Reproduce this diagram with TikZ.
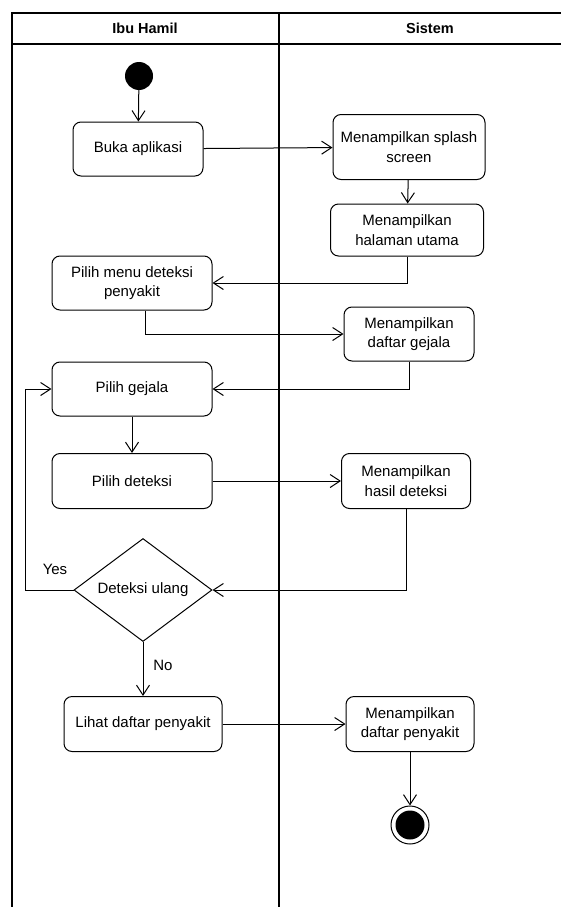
\documentclass[tikz,border=0pt]{standalone}
\usepackage{fontspec}
\setmainfont{Liberation Sans}
\usetikzlibrary{shapes.geometric,arrows.meta}

\begin{document}
\begin{tikzpicture}[x=1pt,y=-1pt,
  act/.style={draw, rounded corners=8pt, line width=1pt, align=center, inner sep=0pt,
    minimum height=54pt, font=\fontsize{15}{19.5}\selectfont},
  flow/.style={-{Straight Barb[length=10pt,width=13pt]}, line width=1pt},
  lbl/.style={font=\fontsize{15}{19.5}\selectfont},
  lanehead/.style={font=\fontsize{14.5}{19}\selectfont\bfseries}]
\useasboundingbox (0,0) rectangle (561,907);
% swimlanes
\draw[line width=1.3pt] (12,907) -- (12,13) -- (561,13);
\draw[line width=1.1pt] (12,44) -- (561,44);
\draw[line width=1.1pt] (279,13) -- (279,907);
\node[lanehead] (ibu) at (145,28) {Ibu Hamil};
\node[lanehead] (sistem) at (430,28) {Sistem};
% activities
\node[circle, fill=black, minimum size=28pt, inner sep=0pt] (start) at (139,76) {};
\node[act, minimum width=130pt] (buka) at (138,149) {Buka aplikasi};
\node[act, minimum width=152pt, minimum height=65pt] (splash) at (409,147) {Menampilkan splash\\screen};
\node[act, minimum width=153pt, minimum height=52pt] (halaman) at (407,230) {Menampilkan\\halaman utama};
\node[act, minimum width=160pt] (menu) at (132,283) {Pilih menu deteksi\\penyakit};
\node[act, minimum width=130pt] (dgejala) at (409,334) {Menampilkan\\daftar gejala};
\node[act, minimum width=160pt] (pgejala) at (132,389) {Pilih gejala};
\node[act, minimum width=160pt, minimum height=55pt] (pdeteksi) at (132,481) {Pilih deteksi};
\node[act, minimum width=129pt, minimum height=55pt] (hasil) at (406,481) {Menampilkan\\hasil deteksi};
\node[draw, diamond, line width=1pt, aspect=1.34, minimum width=138pt, minimum height=103pt,
  inner sep=0pt, lbl] (ulang) at (143,590) {Deteksi ulang};
\node[act, minimum width=158pt, minimum height=55pt] (lihat) at (143,724) {Lihat daftar penyakit};
\node[act, minimum width=128pt, minimum height=55pt] (dpenyakit) at (410,724) {Menampilkan\\daftar penyakit};
\node[circle, draw, line width=1pt, minimum size=38pt, inner sep=0pt,
  path picture={\fill (path picture bounding box.center) circle (14.5pt);}] (finish) at (410,825) {};
\coordinate (loop) at (25,590);
% flows
\draw[flow] (start) -- (buka);
\draw[flow] (buka) -- (splash);
\draw[flow] (splash) -- (halaman);
\draw[flow] (halaman.south) |- (menu.east);
\draw[flow] ([xshift=13pt]menu.south) |- (dgejala.west);
\draw[flow] (dgejala.south) |- (pgejala.east);
\draw[flow] (pgejala) -- (pdeteksi);
\draw[flow] (pdeteksi) -- (hasil);
\draw[flow] (hasil.south) |- (ulang.east);
\draw[flow] (ulang.west) -- (loop) |- (pgejala.west);
\draw[flow] (ulang) -- (lihat);
\draw[flow] (lihat) -- (dpenyakit);
\draw[flow] (dpenyakit) -- (finish);
\node[lbl] (yes) at (55,569) {Yes};
\node[lbl] (no) at (163,665) {No};
\end{tikzpicture}
\end{document}
